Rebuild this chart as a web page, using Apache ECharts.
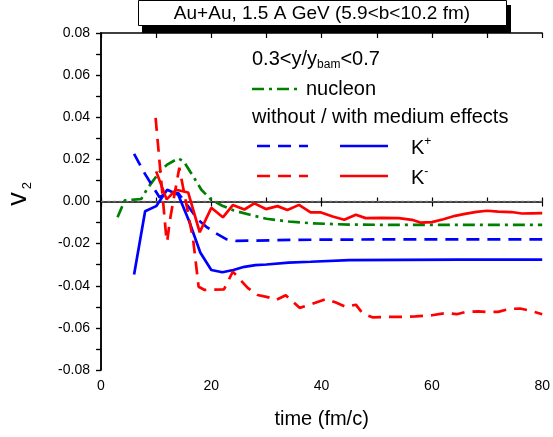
<!DOCTYPE html>
<html>
<head>
<meta charset="utf-8">
<script src="https://cdn.jsdelivr.net/npm/echarts@6/dist/echarts.min.js"></script>
<style>
html,body{margin:0;padding:0;background:#fff;}
#c{width:553px;height:437px;}
</style>
</head>
<body>
<div id="c"></div>
<script>
// ---- data ----
const xTicks = [0, 20, 40, 60, 80];
const yTicks = [-0.08, -0.06, -0.04, -0.02, 0.00, 0.02, 0.04, 0.06, 0.08];

const nucleonT = [3, 4.3, 7.3, 8.5, 10.7, 12, 14, 15, 16.7, 18.2, 20, 22, 24, 27, 30, 34, 38, 45, 55, 80];
const nucleonV = [-0.0075, 0.0005, 0.0012, 0.0065, 0.0143, 0.0175, 0.0205, 0.019, 0.012, 0.0056, 0.0008, -0.002, -0.0042, -0.0063, -0.0082, -0.0095, -0.0103, -0.011, -0.0111, -0.0111];

const kPlusWithoutT = [6, 8, 10.6, 12, 14, 16, 17.6, 19.1, 20.8, 22.7, 24.5, 27, 35, 50, 80];
const kPlusWithoutV = [0.0226, 0.013, 0.002, 0.004, 0.004, -0.003, -0.0087, -0.012, -0.015, -0.0179, -0.0187, -0.0186, -0.0182, -0.018, -0.018];

const kPlusWithT = [6, 8, 10, 12, 14, 16, 18, 20, 22, 24, 26, 28, 30, 34, 38, 45, 55, 65, 80];
const kPlusWithV = [-0.0347, -0.0046, -0.0022, 0.0056, 0.0032, -0.0095, -0.0242, -0.0325, -0.0336, -0.0325, -0.031, -0.0302, -0.0299, -0.029, -0.0286, -0.0278, -0.0277, -0.0276, -0.0276];

const kMinusWithoutT = [9.9, 11.8, 12.0, 12.5, 14.2, 15.6, 16.7, 17.7, 18.8, 22.3, 23.9, 26.6, 28.4, 30.2, 31.7, 33.5, 36, 37.8, 40.8, 42.6, 44.4, 46.2, 47.4, 49.2, 51.3, 54.5, 57, 60, 62.5, 64.5, 66, 68.4, 70, 72, 74, 76, 78, 80];
const kMinusWithoutV = [0.0397, -0.016, -0.019, -0.0087, 0.016, -0.003, -0.018, -0.0405, -0.042, -0.0417, -0.0333, -0.041, -0.0444, -0.0454, -0.0468, -0.0445, -0.0505, -0.049, -0.0463, -0.048, -0.05, -0.049, -0.053, -0.055, -0.0548, -0.0548, -0.0545, -0.054, -0.053, -0.0535, -0.0525, -0.0522, -0.0524, -0.0524, -0.051, -0.0508, -0.052, -0.0535];

const kMinusWithT = [10, 11.9, 13.6, 15.8, 17.9, 20, 22.1, 23.9, 26, 27.8, 29.9, 32, 33.8, 35.9, 38, 39.9, 42, 44.1, 46.2, 48, 51, 54, 56.4, 57.9, 60, 62.1, 64.2, 66, 68.1, 70, 72, 74.4, 76.3, 78, 80];
const kMinusWithV = [0.0143, 0.001, 0.0056, 0.0043, -0.0146, -0.003, -0.0075, -0.0017, -0.0038, -0.0009, -0.0036, -0.0022, -0.004, -0.0016, -0.0052, -0.0052, -0.0071, -0.0087, -0.0063, -0.0079, -0.0078, -0.0079, -0.0087, -0.01, -0.0098, -0.0084, -0.0068, -0.0059, -0.0049, -0.0044, -0.0048, -0.005, -0.0057, -0.0056, -0.0055];

const zeroLineT = [0, 80];
const zeroLineV = [0, 0];

// ---- chart ----
function zip(a, b) { return a.map((v, i) => [v, b[i]]); }
const FONT = '"Liberation Sans", Arial, sans-serif';
const BLUE = '#0000ff', RED = '#ff0000', GREEN = '#008000';
const LW = 2.7;

const chart = echarts.init(document.getElementById('c'), null, {renderer: 'canvas'});
const axisLine = {show: true, lineStyle: {color: '#000', width: 1.5}};

chart.setOption({
  animation: false,
  backgroundColor: '#fff',
  grid: {left: 101, right: 9, top: 33, bottom: 67, containLabel: false},
  xAxis: [
    {
      type: 'value', position: 'bottom', min: xTicks[0], max: xTicks[xTicks.length - 1], interval: 20,
      axisLine: axisLine,
      axisTick: {show: true, inside: false, length: 5, lineStyle: {color: '#000', width: 1.2}},
      axisLabel: {color: '#000', fontFamily: FONT, fontSize: 14, margin: 9},
      splitLine: {show: false},
      name: 'time (fm/c)', nameLocation: 'middle', nameGap: 39,
      nameTextStyle: {color: '#000', fontFamily: FONT, fontSize: 20}
    },
    {
      type: 'value', position: 'bottom', min: 0, max: 80, interval: 10,
      axisLine: {show: false},
      axisTick: {show: true, inside: true, length: 4, lineStyle: {color: '#000', width: 1.2}},
      axisLabel: {show: false}, splitLine: {show: false}
    },
    {
      type: 'value', position: 'top', min: 0, max: 80, interval: 10,
      axisLine: axisLine,
      axisTick: {show: true, inside: true, length: 5, lineStyle: {color: '#000', width: 1.2}},
      axisLabel: {show: false}, splitLine: {show: false}
    }
  ],
  yAxis: [
    {
      type: 'value', position: 'left', min: yTicks[0], max: yTicks[yTicks.length - 1], interval: 0.02,
      axisLine: axisLine,
      axisTick: {show: true, inside: false, length: 5, lineStyle: {color: '#000', width: 1.2}},
      minorTick: {show: true, splitNumber: 2, length: 4, lineStyle: {color: '#000', width: 1.2}},
      axisLabel: {color: '#000', fontFamily: FONT, fontSize: 14, margin: 11,
        formatter: v => v.toFixed(2)},
      splitLine: {show: false}, minorSplitLine: {show: false}
    },
    {
      type: 'value', position: 'right', min: -0.08, max: 0.08, interval: 0.01,
      axisLine: axisLine,
      axisTick: {show: true, inside: true, length: 5, lineStyle: {color: '#000', width: 1.2}},
      axisLabel: {show: false}, splitLine: {show: false}
    }
  ],
  series: [
    {type: 'line', name: 'zero', data: zip(zeroLineT, zeroLineV), showSymbol: false, symbol: 'none', silent: true,
      lineStyle: {color: '#666', width: 1.3, type: [3, 3]}, z: 1},
    {type: 'line', name: 'nucleon', data: zip(nucleonT, nucleonV), symbol: 'none',
      lineStyle: {color: GREEN, width: LW, type: [12, 5, 3, 5]}, z: 2},
    {type: 'line', name: 'K+ without', data: zip(kPlusWithoutT, kPlusWithoutV), symbol: 'none',
      lineStyle: {color: BLUE, width: LW, type: [13, 8]}, z: 3},
    {type: 'line', name: 'K+ with', data: zip(kPlusWithT, kPlusWithV), symbol: 'none',
      lineStyle: {color: BLUE, width: LW, type: 'solid'}, z: 3},
    {type: 'line', name: 'K- without', data: zip(kMinusWithoutT, kMinusWithoutV), symbol: 'none',
      lineStyle: {color: RED, width: LW, type: [13, 8]}, z: 4},
    {type: 'line', name: 'K- with', data: zip(kMinusWithT, kMinusWithV), symbol: 'none',
      lineStyle: {color: RED, width: LW, type: 'solid'}, z: 4}
  ],
  graphic: [
    {type: 'text', x: 19, y: 194, rotation: Math.PI / 2, z: 12,
      style: {text: '{v|v}{s|2}', align: 'center', verticalAlign: 'middle',
        rich: {v: {font: '27px ' + FONT, fill: '#000', lineHeight: 30, verticalAlign: 'middle'},
               s: {font: '13px ' + FONT, fill: '#000', lineHeight: 30, verticalAlign: 'bottom', padding: [0, 0, 0, 3]}}}},
    {type: 'rect', shape: {x: 142, y: 5, width: 369, height: 28}, style: {fill: '#000'}, z: 10},
    {type: 'rect', shape: {x: 138.5, y: 0.5, width: 368, height: 25}, style: {fill: '#fff', stroke: '#000', lineWidth: 1}, z: 11},
    {type: 'text', x: 322, y: 14, z: 12,
      style: {text: 'Au+Au, 1.5 A GeV (5.9<b<10.2 fm)', font: '19px ' + FONT, fill: '#000', align: 'center', verticalAlign: 'middle'}},
    {type: 'text', x: 252, y: 59, z: 12,
      style: {text: '{n|0.3<y/y}{s|bam}{n|<0.7}', align: 'left', verticalAlign: 'middle',
        rich: {n: {font: '20px ' + FONT, fill: '#000', lineHeight: 24, verticalAlign: 'middle'},
               s: {font: '12px ' + FONT, fill: '#000', lineHeight: 24, verticalAlign: 'bottom'}}}},
    {type: 'line', shape: {x1: 252, y1: 89, x2: 301, y2: 89}, z: 12,
      style: {stroke: GREEN, lineWidth: LW, lineDash: [12, 5, 3, 5]}},
    {type: 'text', x: 306, y: 89, z: 12,
      style: {text: 'nucleon', font: '20px ' + FONT, fill: '#000', align: 'left', verticalAlign: 'middle'}},
    {type: 'text', x: 252, y: 117, z: 12,
      style: {text: 'without / with medium effects', font: '20px ' + FONT, fill: '#000', align: 'left', verticalAlign: 'middle'}},
    {type: 'line', shape: {x1: 257, y1: 146, x2: 308, y2: 146}, z: 12,
      style: {stroke: BLUE, lineWidth: LW, lineDash: [13, 8]}},
    {type: 'line', shape: {x1: 340, y1: 146, x2: 388, y2: 146}, z: 12,
      style: {stroke: BLUE, lineWidth: LW}},
    {type: 'text', x: 411, y: 148, z: 12,
      style: {text: '{k|K}{p|+}', align: 'left', verticalAlign: 'middle',
        rich: {k: {font: '20px ' + FONT, fill: '#000', lineHeight: 24, verticalAlign: 'middle'},
               p: {font: '12px ' + FONT, fill: '#000', lineHeight: 24, verticalAlign: 'top'}}}},
    {type: 'line', shape: {x1: 257, y1: 176, x2: 308, y2: 176}, z: 12,
      style: {stroke: RED, lineWidth: LW, lineDash: [13, 8]}},
    {type: 'line', shape: {x1: 340, y1: 176, x2: 388, y2: 176}, z: 12,
      style: {stroke: RED, lineWidth: LW}},
    {type: 'text', x: 411, y: 178, z: 12,
      style: {text: '{k|K}{p|-}', align: 'left', verticalAlign: 'middle',
        rich: {k: {font: '20px ' + FONT, fill: '#000', lineHeight: 24, verticalAlign: 'middle'},
               p: {font: '12px ' + FONT, fill: '#000', lineHeight: 24, verticalAlign: 'top'}}}}
  ]
});
</script>
</body>
</html>
